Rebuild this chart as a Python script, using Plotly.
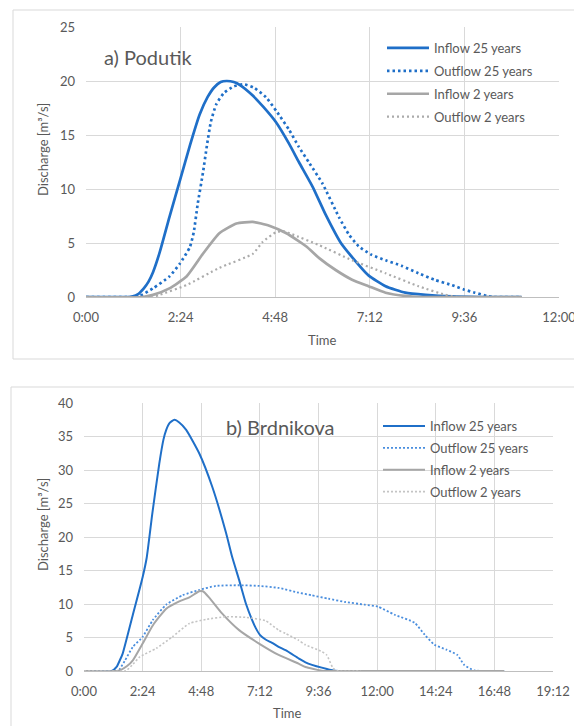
import plotly.graph_objects as go

# ---------------- data (time in minutes, discharge in m3/s) ----------------
series_names = ["Inflow 25 years", "Outflow 25 years", "Inflow 2 years", "Outflow 2 years"]

# a) Podutik
a_in25_t = [0, 60, 70, 80, 88, 95, 102, 112, 127, 144, 158, 173, 185, 195, 205, 214, 225, 235, 253, 270, 289, 309, 324, 345, 365, 388, 405, 430, 456, 486, 517, 557, 600, 663]
a_in25_q = [0, 0, 0.05, 0.3, 0.8, 1.4, 2.3, 4.1, 7.4, 11.0, 14.0, 16.9, 18.5, 19.4, 19.9, 20.0, 19.9, 19.6, 18.7, 17.6, 16.2, 14.2, 12.5, 10.2, 7.6, 5.0, 3.7, 2.0, 1.0, 0.4, 0.2, 0.05, 0, 0]

a_out25_t = [0, 75, 82, 102, 127, 143, 158, 164, 170, 178, 184, 190, 198, 210, 225, 240, 255, 274, 290, 309, 324, 340, 360, 385, 400, 415, 435, 456, 480, 506, 530, 557, 575, 592, 610, 620, 663]
a_out25_q = [0, 0, 0.1, 0.8, 1.9, 3.1, 4.6, 6.0, 8.6, 11.5, 14.0, 16.2, 17.8, 18.9, 19.5, 19.7, 19.4, 18.5, 17.2, 15.5, 13.9, 12.4, 10.5, 7.4, 5.8, 4.7, 3.9, 3.4, 2.9, 2.2, 1.6, 1.1, 0.7, 0.4, 0.1, 0, 0]

a_in2_t = [0, 86, 102, 127, 153, 178, 203, 229, 254, 279, 305, 335, 355, 380, 405, 430, 456, 486, 510, 663]
a_in2_q = [0, 0, 0.2, 0.8, 1.9, 4.0, 5.9, 6.8, 6.95, 6.6, 5.9, 4.7, 3.6, 2.5, 1.6, 1.0, 0.4, 0.1, 0, 0]

a_out2_t = [0, 100, 112, 153, 203, 254, 269, 289, 300, 314, 355, 405, 456, 506, 547, 565, 663]
a_out2_q = [0, 0, 0.2, 1.1, 2.7, 4.0, 5.1, 6.0, 6.1, 5.8, 4.8, 3.4, 2.2, 1.0, 0.2, 0, 0]

# b) Brdnikova
b_in25_t = [0, 68, 80, 88, 95, 120, 144, 154, 168, 185, 195, 202, 210, 222, 234, 251, 283, 315, 349, 364, 381, 398, 413, 422, 432, 446, 462, 478, 495, 527, 544, 584, 617, 640, 1032]
b_in25_q = [0, 0, 0.6, 1.6, 2.6, 8.4, 14.0, 16.9, 23.6, 31.0, 34.5, 36.0, 37.0, 37.5, 37.1, 36.0, 32.5, 27.5, 20.6, 17.0, 13.6, 10.0, 7.6, 6.4, 5.4, 4.7, 4.2, 3.6, 3.1, 1.9, 1.3, 0.5, 0.05, 0, 0]

b_out25_t = [0, 85, 88, 100, 120, 144, 169, 202, 242, 283, 324, 381, 430, 478, 527, 559, 600, 641, 690, 722, 763, 812, 837, 861, 890, 917, 934, 958, 980, 1032]
b_out25_q = [0, 0, 0.3, 1.5, 3.6, 5.1, 7.6, 9.9, 11.3, 12.1, 12.7, 12.8, 12.7, 12.4, 11.7, 11.3, 10.8, 10.3, 9.9, 9.6, 8.4, 7.2, 5.4, 3.9, 3.2, 2.4, 0.9, 0.1, 0, 0]

b_in2_t = [0, 80, 88, 105, 120, 144, 169, 202, 234, 259, 283, 292, 307, 339, 381, 430, 478, 527, 544, 584, 600, 1032]
b_in2_q = [0, 0, 0.1, 0.7, 1.6, 4.1, 6.8, 9.3, 10.4, 11.0, 11.9, 11.9, 11.0, 8.6, 6.1, 4.1, 2.4, 1.1, 0.6, 0.05, 0, 0]

b_out2_t = [0, 100, 105, 120, 137, 178, 217, 259, 300, 349, 398, 446, 478, 495, 527, 544, 584, 596, 612, 625, 680]
b_out2_q = [0, 0, 0.1, 1.0, 2.1, 3.4, 5.1, 7.1, 7.7, 8.1, 8.0, 7.5, 6.1, 5.6, 4.6, 3.9, 2.9, 2.4, 0.4, 0, 0]

a_xticks = [0, 144, 288, 432, 576, 720]
a_xlabels = ["0:00", "2:24", "4:48", "7:12", "9:36", "12:00"]
b_xticks = [0, 144, 288, 432, 576, 720, 864, 1008, 1152]
b_xlabels = ["0:00", "2:24", "4:48", "7:12", "9:36", "12:00", "14:24", "16:48", "19:12"]
a_yticks = [0, 5, 10, 15, 20, 25]
b_yticks = [0, 5, 10, 15, 20, 25, 30, 35, 40]

# ---------------- styling ----------------
OFF = 8                      # page body margin
W, H = 582 - OFF, 726 - OFF
FONT = "Lato"
TXT = "#595959"
GRID = "#d9d9d9"

def px_x(p):
    return (p - OFF) / W

def px_y(p):
    return 1 - (p - OFF) / H

fig = go.Figure()

a_styles = [
    dict(color="#1f6fc8", width=2.7, dash="solid"),
    dict(color="#1f6fc8", width=2.7, dash="2.5px,3px"),
    dict(color="#a6a6a6", width=2.7, dash="solid"),
    dict(color="#ababab", width=2.2, dash="2px,3px"),
]
b_styles = [
    dict(color="#1f6fc8", width=2.0, dash="solid"),
    dict(color="#4a8ede", width=1.8, dash="2px,2px"),
    dict(color="#a6a6a6", width=2.0, dash="solid"),
    dict(color="#c4c4c4", width=1.6, dash="2px,2px"),
]

a_data = [(a_in25_t, a_in25_q), (a_out25_t, a_out25_q), (a_in2_t, a_in2_q), (a_out2_t, a_out2_q)]
b_data = [(b_in25_t, b_in25_q), (b_out25_t, b_out25_q), (b_in2_t, b_in2_q), (b_out2_t, b_out2_q)]

for i, ((t, q), st) in enumerate(zip(a_data, a_styles)):
    fig.add_trace(go.Scatter(x=t, y=q, mode="lines", name=series_names[i],
                             line=dict(color=st["color"], width=st["width"], dash=st["dash"],
                                       shape="spline", smoothing=0.5),
                             xaxis="x", yaxis="y", legend="legend", legendgroup="a%d" % i))
for i, ((t, q), st) in enumerate(zip(b_data, b_styles)):
    fig.add_trace(go.Scatter(x=t, y=q, mode="lines", name=series_names[i],
                             line=dict(color=st["color"], width=st["width"], dash=st["dash"],
                                       shape="spline", smoothing=0.5),
                             xaxis="x2", yaxis="y2", legend="legend2", legendgroup="b%d" % i))

axis_common = dict(showgrid=True, gridcolor=GRID, gridwidth=1, zeroline=False, automargin=False,
                   tickfont=dict(family=FONT, size=13, color=TXT), ticks="")

fig.update_layout(
    width=W, height=H,
    margin=dict(l=0, r=0, t=0, b=0, autoexpand=False),
    paper_bgcolor="white", plot_bgcolor="white",
    font=dict(family=FONT, color=TXT),
    xaxis=dict(domain=[px_x(86), px_x(559)], range=[0, 720], tickvals=a_xticks, ticktext=a_xlabels,
               showline=True, linecolor="#bfbfbf", linewidth=1, anchor="y", ticklabelstandoff=8,
               **axis_common),
    yaxis=dict(domain=[px_y(297), px_y(27)], range=[0, 25], tickvals=a_yticks, anchor="x",
               ticklabelstandoff=10, showline=False, **axis_common),
    xaxis2=dict(domain=[px_x(84), px_x(553)], range=[0, 1152], tickvals=b_xticks, ticktext=b_xlabels,
                showline=True, linecolor="#bfbfbf", linewidth=1, anchor="y2", ticklabelstandoff=8,
                **axis_common),
    yaxis2=dict(domain=[px_y(671), px_y(403)], range=[0, 40], tickvals=b_yticks, anchor="x2",
                ticklabelstandoff=10, showline=False, **axis_common),
    legend=dict(x=px_x(382), y=px_y(33), xanchor="left", yanchor="top", bgcolor="rgba(0,0,0,0)",
                font=dict(family=FONT, size=13, color=TXT), itemwidth=42, tracegroupgap=3,
                traceorder="grouped"),
    legend2=dict(x=px_x(378), y=px_y(411), xanchor="left", yanchor="top", bgcolor="rgba(0,0,0,0)",
                 font=dict(family=FONT, size=13, color=TXT), itemwidth=42, tracegroupgap=2,
                 traceorder="grouped"),
    showlegend=True,
)

# frame boxes around each chart
fig.add_shape(type="rect", xref="paper", yref="paper", x0=px_x(13), x1=1.05, y0=px_y(359), y1=px_y(10),
              line=dict(color=GRID, width=1), layer="below")
fig.add_shape(type="rect", xref="paper", yref="paper", x0=px_x(11), x1=1.05, y0=-0.05, y1=px_y(387),
              line=dict(color=GRID, width=1), layer="below")

annotations = [
    dict(text="a) Podutik", x=px_x(102), y=px_y(57), xanchor="left", yanchor="middle", font=dict(size=20)),
    dict(text="b) Brdnikova", x=px_x(224), y=px_y(427), xanchor="left", yanchor="middle", font=dict(size=20)),
    dict(text="Discharge [m³/s]", x=px_x(43), y=px_y(150), xanchor="center", yanchor="middle",
         textangle=-90, font=dict(size=13)),
    dict(text="Discharge [m³/s]", x=px_x(43), y=px_y(525), xanchor="center", yanchor="middle",
         textangle=-90, font=dict(size=13)),
    dict(text="Time", x=px_x(322), y=px_y(340), xanchor="center", yanchor="middle", font=dict(size=13)),
    dict(text="Time", x=px_x(287), y=px_y(713), xanchor="center", yanchor="middle", font=dict(size=13)),
]
for a in annotations:
    a.update(xref="paper", yref="paper", showarrow=False)
    a["font"].update(family=FONT, color=TXT)
    fig.add_annotation(**a)

fig.write_html("out.html")
